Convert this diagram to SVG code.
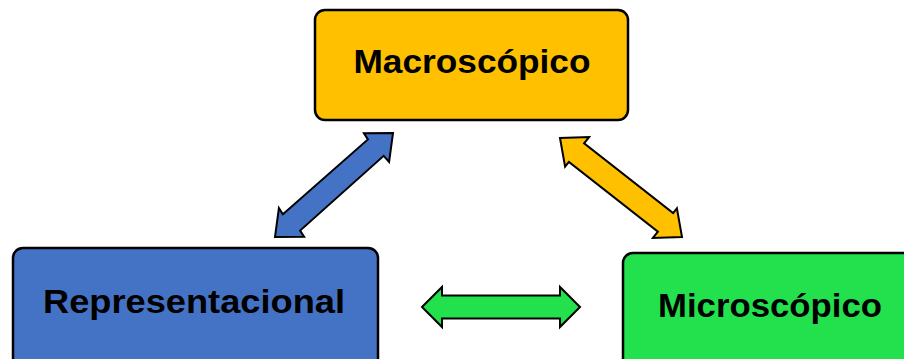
<svg xmlns="http://www.w3.org/2000/svg" width="904" height="359" viewBox="0 0 904 359">
<style>
.box{stroke:#000;stroke-width:2.5}
.lbl{font-family:"Liberation Sans",Arial,sans-serif;font-weight:bold;font-size:33px;fill:#000;text-anchor:middle}
.arr{stroke:#000;stroke-width:2;stroke-linejoin:miter}
</style>
<rect width="904" height="359" fill="#fff"/>
<g id="connectors">
<polygon class="arr" fill="#4472C4" points="393,133 389.1,161.9 383.7,155.8 300.1,230.6 304.1,236.7 275,237 278.9,208.1 282.9,214.2 367.9,139.4 363.9,133.3"/>
<polygon class="arr" fill="#FFC000" points="560,138 565.1,166.7 568.9,161.9 657.9,231.6 652.9,237.9 682,237 676.9,208.3 673.1,213.1 584.1,143.4 589.1,137.1"/>
<polygon class="arr" fill="#23E04D" points="422,307 442,287 442,295.5 560,295.5 560,287 580,307 560,327 560,318.5 442,318.5 442,327"/>
</g>
<g id="macroscopico">
<rect class="box" x="315" y="10" width="313" height="110" rx="10" fill="#FFC000"/>
<text class="lbl" x="472" y="73" textLength="237" lengthAdjust="spacingAndGlyphs">Macroscópico</text>
</g>
<g id="representacional">
<rect class="box" x="13" y="248" width="365" height="130" rx="10" fill="#4472C4"/>
<text class="lbl" x="194" y="313" textLength="302" lengthAdjust="spacingAndGlyphs">Representacional</text>
</g>
<g id="microscopico">
<rect class="box" x="623" y="253" width="300" height="130" rx="10" fill="#23E04D"/>
<text class="lbl" x="770" y="317" textLength="224" lengthAdjust="spacingAndGlyphs">Microscópico</text>
</g>
</svg>
